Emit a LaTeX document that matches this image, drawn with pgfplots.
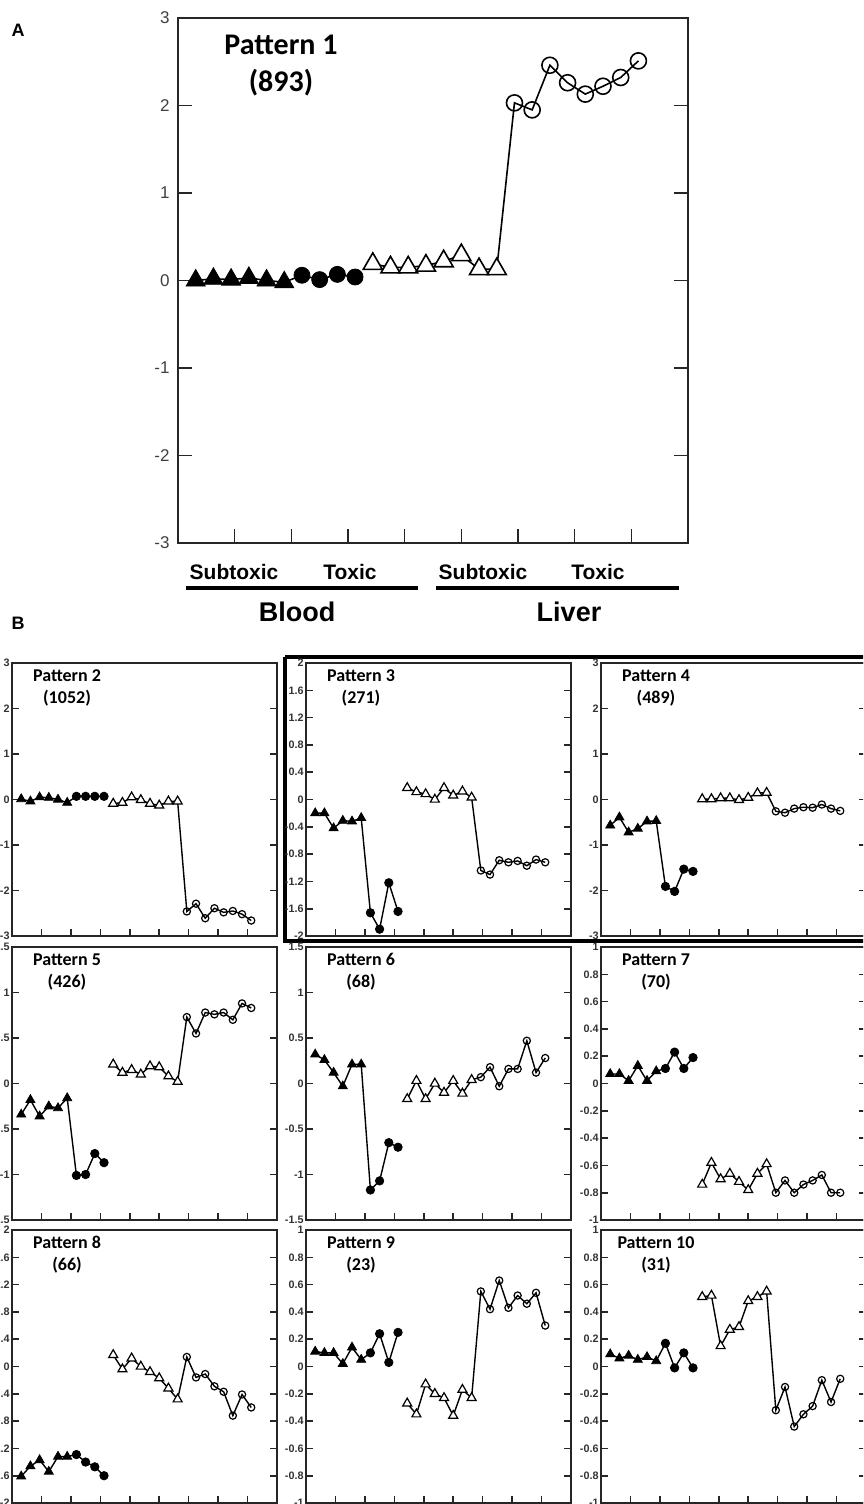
\documentclass[border=0pt]{standalone}
\usepackage{pgfplots}
\pgfplotsset{compat=1.18}
\usepackage{pgfplotstable}
\usepackage{fontspec}
\setmainfont{Liberation Sans}
\newfontfamily\calib{Carlito}

\pgfplotstableread{
x y
1 0.00
2 0.02
3 0.01
4 0.03
5 0.00
6 -0.02
7 0.06
8 0.01
9 0.07
10 0.04
11 0.19
12 0.15
13 0.15
14 0.17
15 0.22
16 0.29
17 0.13
18 0.13
19 2.03
20 1.95
21 2.46
22 2.26
23 2.13
24 2.22
25 2.32
26 2.51
}\pA
\pgfplotstableread{
x y
1 0.01
2 -0.04
3 0.05
4 0.04
5 0.00
6 -0.07
7 0.07
8 0.07
9 0.07
10 0.07
11 -0.09
12 -0.07
13 0.05
14 -0.01
15 -0.09
16 -0.13
17 -0.04
18 -0.04
19 -2.46
20 -2.29
21 -2.61
22 -2.39
23 -2.48
24 -2.45
25 -2.52
26 -2.66
}\pB
\pgfplotstableread{
x y
1 -0.20
2 -0.20
3 -0.42
4 -0.31
5 -0.32
6 -0.27
7 -1.66
8 -1.90
9 -1.22
10 -1.64
11 0.17
12 0.11
13 0.08
14 0.00
15 0.17
16 0.06
17 0.12
18 0.03
19 -1.04
20 -1.10
21 -0.89
22 -0.92
23 -0.90
24 -0.97
25 -0.88
26 -0.92
}\pC
\pgfplotstableread{
x y
1 -0.57
2 -0.39
3 -0.72
4 -0.64
5 -0.48
6 -0.47
7 -1.91
8 -2.02
9 -1.53
10 -1.58
11 0.01
12 0.01
13 0.03
14 0.03
15 -0.01
16 0.04
17 0.14
18 0.15
19 -0.26
20 -0.29
21 -0.20
22 -0.17
23 -0.18
24 -0.11
25 -0.20
26 -0.25
}\pD
\pgfplotstableread{
x y
1 -0.34
2 -0.18
3 -0.36
4 -0.25
5 -0.27
6 -0.16
7 -1.01
8 -1.00
9 -0.77
10 -0.87
11 0.21
12 0.12
13 0.15
14 0.10
15 0.19
16 0.18
17 0.08
18 0.02
19 0.73
20 0.55
21 0.78
22 0.76
23 0.78
24 0.70
25 0.88
26 0.83
}\pE
\pgfplotstableread{
x y
1 0.32
2 0.26
3 0.12
4 -0.03
5 0.21
6 0.21
7 -1.17
8 -1.07
9 -0.65
10 -0.70
11 -0.17
12 0.03
13 -0.17
14 0.00
15 -0.10
16 0.03
17 -0.11
18 0.04
19 0.07
20 0.18
21 -0.03
22 0.16
23 0.16
24 0.47
25 0.12
26 0.28
}\pF
\pgfplotstableread{
x y
1 0.07
2 0.07
3 0.02
4 0.13
5 0.02
6 0.09
7 0.11
8 0.23
9 0.11
10 0.19
11 -0.74
12 -0.58
13 -0.70
14 -0.66
15 -0.72
16 -0.78
17 -0.66
18 -0.59
19 -0.80
20 -0.71
21 -0.80
22 -0.74
23 -0.71
24 -0.67
25 -0.80
26 -0.80
}\pG
\pgfplotstableread{
x y
1 -1.61
2 -1.46
3 -1.37
4 -1.54
5 -1.32
6 -1.32
7 -1.29
8 -1.40
9 -1.47
10 -1.60
11 0.17
12 -0.04
13 0.12
14 0.00
15 -0.08
16 -0.17
17 -0.32
18 -0.48
19 0.14
20 -0.16
21 -0.11
22 -0.29
23 -0.37
24 -0.72
25 -0.41
26 -0.60
}\pH
\pgfplotstableread{
x y
1 0.11
2 0.10
3 0.10
4 0.02
5 0.14
6 0.05
7 0.10
8 0.24
9 0.03
10 0.25
11 -0.27
12 -0.35
13 -0.13
14 -0.20
15 -0.23
16 -0.36
17 -0.17
18 -0.23
19 0.55
20 0.42
21 0.63
22 0.43
23 0.52
24 0.46
25 0.54
26 0.30
}\pI
\pgfplotstableread{
x y
1 0.09
2 0.06
3 0.08
4 0.05
5 0.07
6 0.04
7 0.17
8 -0.01
9 0.10
10 -0.01
11 0.51
12 0.52
13 0.15
14 0.27
15 0.29
16 0.48
17 0.51
18 0.55
19 -0.32
20 -0.15
21 -0.44
22 -0.35
23 -0.29
24 -0.10
25 -0.26
26 -0.09
}\pJ

\newcommand\drawpat[1]{%
 \addplot[black, line width=\lw, mark=none, restrict x to domain=1:10] table {#1};
 \addplot[black, line width=\lw, mark=none, restrict x to domain=11:26] table {#1};
 \addplot[only marks, mark=triangle*, mark size=\tris, mark options={fill=black,draw=black,line width=0.4pt}, restrict x to domain=1:6] table {#1};
 \addplot[only marks, mark=*, mark size=\fcs, mark options={fill=black,draw=black}, restrict x to domain=7:10] table {#1};
 \addplot[only marks, mark=triangle*, mark size=\tris, mark options={fill=white,draw=black,line width=\mlw}, restrict x to domain=11:18] table {#1};
 \addplot[only marks, mark=o, mark size=\ocs, mark options={draw=black,line width=\mlw}, restrict x to domain=19:26] table {#1};
}

\pgfplotsset{
 base/.style={scale only axis, anchor=north west, xmin=0, xmax=28.8,
  xtick={3.2,6.4,9.6,12.8,16,19.2,22.4,25.6}, xticklabels={},
  tick align=inside, xtick pos=left, ytick pos=both, yticklabel pos=left,
  axis line style={line width=1pt, black!85},
  every tick/.style={black!85, line width=0.8pt},
  /pgf/number format/assume math mode=true},
 small/.style={base, width=132.5pt, height=136.5pt, major tick length=3.3pt,
  yticklabel style={font=\fontsize{5.4}{6.4}\selectfont\bfseries, inner sep=1pt, text=black!80}},
 r3/.style={ymin=-3, ymax=3, ytick={-3,-2,-1,0,1,2,3}},
 r2/.style={ymin=-2, ymax=2, ytick={-2,-1.6,-1.2,-0.8,-0.4,0,0.4,0.8,1.2,1.6,2}},
 r15/.style={ymin=-1.5, ymax=1.5, ytick={-1.5,-1,-0.5,0,0.5,1,1.5}},
 r1/.style={ymin=-1, ymax=1, ytick={-1,-0.8,-0.6,-0.4,-0.2,0,0.2,0.4,0.6,0.8,1}},
}
\newcommand\ttl[2]{%
 \node[font=\calib\bfseries\fontsize{9}{10}\selectfont] at (rel axis cs:0.2075,0.954) {Pattern #1};
 \node[font=\calib\bfseries\fontsize{9}{10}\selectfont] at (rel axis cs:0.2075,0.87) {(#2)};
}

\begin{document}
\begin{tikzpicture}
\useasboundingbox (0,0) rectangle (431.5pt,-752pt);
\clip (0,0) rectangle (431.5pt,-752pt);

% ---------- Panel A ----------
\def\lw{0.8pt}\def\mlw{0.8pt}\def\tris{5.5pt}\def\fcs{4pt}\def\ocs{4pt}
\begin{axis}[base, at={(89pt,-9pt)}, width=255pt, height=262.5pt,
  major tick length=7pt, r3,
  yticklabel style={font=\fontsize{8.5}{10}\selectfont, inner sep=4pt, text=black!75}]
\drawpat{\pA}
\node[font=\calib\bfseries\fontsize{15}{17}\selectfont] at (rel axis cs:0.202,0.9486) {Pattern 1};
\node[font=\calib\bfseries\fontsize{15}{17}\selectfont] at (rel axis cs:0.202,0.876) {(893)};
\end{axis}

\node[font=\bfseries\fontsize{9}{10}\selectfont] at (9pt,-15pt) {A};
\node[font=\bfseries\fontsize{9}{10}\selectfont] at (9pt,-311.5pt) {B};
\node[font=\bfseries\fontsize{10.5}{12}\selectfont] at (117pt,-286pt) {Subtoxic};
\node[font=\bfseries\fontsize{10.5}{12}\selectfont] at (175pt,-286pt) {Toxic};
\node[font=\bfseries\fontsize{10.5}{12}\selectfont] at (241.5pt,-286pt) {Subtoxic};
\node[font=\bfseries\fontsize{10.5}{12}\selectfont] at (299pt,-286pt) {Toxic};
\draw[line width=2pt] (93pt,-294pt) -- (209pt,-294pt);
\draw[line width=2pt] (218pt,-294pt) -- (339.5pt,-294pt);
\node[font=\bfseries\fontsize{13.5}{15}\selectfont] at (148.5pt,-306pt) {Blood};
\node[font=\bfseries\fontsize{13.5}{15}\selectfont] at (284.5pt,-306pt) {Liver};

% thick frame around patterns 3 and 4 (drawn first, labels on top)
\draw[line width=2.3pt] (142.5pt,-328.5pt) -- (142.5pt,-470.5pt) -- (460pt,-470.5pt);
\draw[line width=2.3pt] (142.5pt,-328.5pt) -- (460pt,-328.5pt);

% ---------- Panel B ----------
\def\lw{0.7pt}\def\mlw{0.6pt}\def\tris{2.6pt}\def\fcs{2.1pt}\def\ocs{1.8pt}
\begin{axis}[small, r3, at={(6pt,-331.5pt)}]
\drawpat{\pB}\ttl{2}{1052}
\end{axis}
\begin{axis}[small, r2, at={(153pt,-331.5pt)}]
\drawpat{\pC}\ttl{3}{271}
\end{axis}
\begin{axis}[small, r3, at={(300.5pt,-331.5pt)}]
\drawpat{\pD}\ttl{4}{489}
\end{axis}

\begin{axis}[small, r15, at={(6pt,-473.5pt)}]
\drawpat{\pE}\ttl{5}{426}
\end{axis}
\begin{axis}[small, r15, at={(153pt,-473.5pt)}]
\drawpat{\pF}\ttl{6}{68}
\end{axis}
\begin{axis}[small, r1, at={(300.5pt,-473.5pt)}]
\drawpat{\pG}\ttl{7}{70}
\end{axis}

\begin{axis}[small, r2, at={(6pt,-615pt)}]
\drawpat{\pH}\ttl{8}{66}
\end{axis}
\begin{axis}[small, r1, at={(153pt,-615pt)}]
\drawpat{\pI}\ttl{9}{23}
\end{axis}
\begin{axis}[small, r1, at={(300.5pt,-615pt)}]
\drawpat{\pJ}\ttl{10}{31}
\end{axis}
\end{tikzpicture}
\end{document}
